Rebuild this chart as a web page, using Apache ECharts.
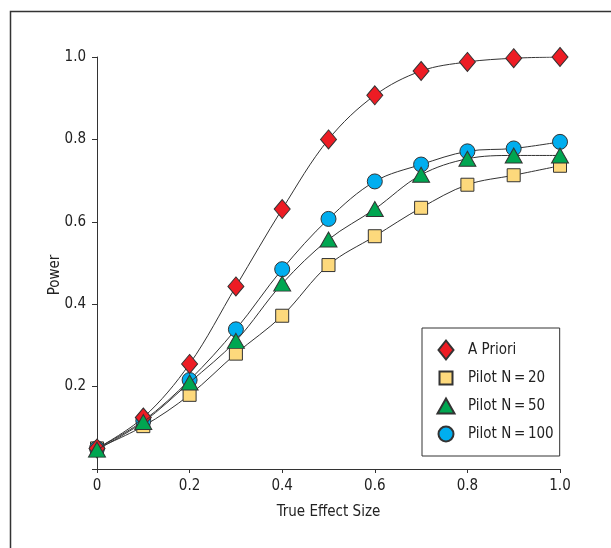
<!DOCTYPE html>
<html>
<head>
<meta charset="utf-8">
<script src="https://cdn.jsdelivr.net/npm/echarts@6/dist/echarts.min.js"></script>
<style>
html,body{margin:0;padding:0;background:#fff;}
#chart{width:611px;height:548px;}
</style>
</head>
<body>
<div id="chart"></div>
<script>
var effectSizes = [0, 0.1, 0.2, 0.3, 0.4, 0.5, 0.6, 0.7, 0.8, 0.9, 1.0];
var aPriori   = [0.05, 0.125, 0.255, 0.443, 0.631, 0.80, 0.907, 0.966, 0.988, 0.997, 1.0];
var pilot20   = [0.05, 0.104, 0.180, 0.280, 0.372, 0.495, 0.565, 0.634, 0.690, 0.713, 0.736];
var pilot50   = [0.047, 0.114, 0.210, 0.311, 0.450, 0.557, 0.631, 0.714, 0.753, 0.761, 0.761];
var pilot100  = [0.05, 0.117, 0.216, 0.339, 0.485, 0.607, 0.698, 0.739, 0.771, 0.778, 0.794];
var xTicks = ['0', '0.2', '0.4', '0.6', '0.8', '1.0'];
var yTicks = ['', '0.2', '0.4', '0.6', '0.8', '1.0'];
var seriesNames = ['A Priori', 'Pilot N\u2009=\u200920', 'Pilot N\u2009=\u200950', 'Pilot N\u2009=\u2009100'];

function pairs(vals){ return effectSizes.map(function(x,i){ return [x, vals[i]]; }); }

var FONT = "'Liberation Sans Narrow', 'DejaVu Sans Condensed', 'Liberation Sans', sans-serif";
var chart = echarts.init(document.getElementById('chart'), null, {renderer:'canvas'});

function mk(name, data, symbol, size, color, z){
  return {
    name: name, type: 'line', data: pairs(data), smooth: 0.35,
    symbol: symbol, symbolSize: size, showAllSymbol: true,
    z: z,
    lineStyle: {color: '#333', width: 1},
    itemStyle: {color: color, borderColor: '#333', borderWidth: 1, opacity: 1},
    emphasis: {disabled: true},
    animation: false
  };
}

// legend icons in a 20x20 box (the two stray move-to points fix the box)
var BOX = 'M0,0 M20,20 ';
var iconDiamond = 'path://' + BOX + 'M10,0.5 L17.5,10 L10,19.5 L2.5,10 Z';
var iconRect = 'path://' + BOX + 'M3.5,3.5 L16.5,3.5 L16.5,16.5 L3.5,16.5 Z';
var iconTri = 'path://' + BOX + 'M10,2.5 L18.5,17.5 L1.5,17.5 Z';
var iconCircle = 'path://' + BOX + 'M2.5,10 A7.5,7.5 0 1,1 17.5,10 A7.5,7.5 0 1,1 2.5,10 Z';

chart.setOption({
  animation: false,
  backgroundColor: '#fff',
  graphic: [{
    type: 'rect', left: 8, top: 9,
    shape: {width: 700, height: 700},
    style: {fill: 'none', stroke: '#333', lineWidth: 1.5},
    silent: true
  }],
  grid: {left: 97, right: 51, top: 57, bottom: 79, containLabel: false},
  xAxis: {
    type: 'value', min: 0, max: 1, interval: 0.2,
    name: 'True Effect Size', nameLocation: 'middle', nameGap: 36,
    nameMoveOverlap: false,
    nameTextStyle: {fontFamily: FONT, fontSize: 15, color: '#222'},
    axisLine: {show: true, lineStyle: {color: '#333', width: 1}},
    axisTick: {show: true, length: 4, inside: false, lineStyle: {color: '#333'}},
    axisLabel: {fontFamily: FONT, fontSize: 15, color: '#222', margin: 10,
      formatter: function(v){ return xTicks[Math.round(v/0.2)]; }},
    splitLine: {show: false}
  },
  yAxis: {
    type: 'value', min: 0, max: 1, interval: 0.2,
    name: 'Power', nameLocation: 'middle', nameGap: 34, nameRotate: 90,
    nameMoveOverlap: false,
    nameTextStyle: {fontFamily: FONT, fontSize: 15, color: '#222', padding: [0, 24, 0, 0]},
    axisLine: {show: true, lineStyle: {color: '#333', width: 1}},
    axisTick: {show: true, length: 5, inside: false, lineStyle: {color: '#333'}},
    axisLabel: {fontFamily: FONT, fontSize: 15, color: '#222', margin: 11,
      formatter: function(v){ return yTicks[Math.round(v/0.2)]; }},
    splitLine: {show: false}
  },
  legend: {
    orient: 'vertical', left: 422, top: 328,
    padding: [11, 6, 11, 13],
    itemWidth: 20, itemHeight: 20, itemGap: 6,
    borderColor: '#333', borderWidth: 1, backgroundColor: '#fff',
    textStyle: {fontFamily: FONT, fontSize: 15, color: '#222', padding: [0, 0, 0, 7]},
    data: [
      {name: seriesNames[0], icon: iconDiamond},
      {name: seriesNames[1], icon: iconRect},
      {name: seriesNames[2], icon: iconTri},
      {name: seriesNames[3], icon: iconCircle}
    ],
    selectedMode: false
  },
  series: [
    mk(seriesNames[1], pilot20, 'rect', 13, '#FDD97C', 2),
    mk(seriesNames[3], pilot100, 'circle', 15, '#00AEEF', 3),
    mk(seriesNames[0], aPriori, 'diamond', [16, 19], '#ED1C24', 4),
    mk(seriesNames[2], pilot50, 'triangle', [17, 15], '#00A651', 5)
  ]
});
</script>
</body>
</html>
